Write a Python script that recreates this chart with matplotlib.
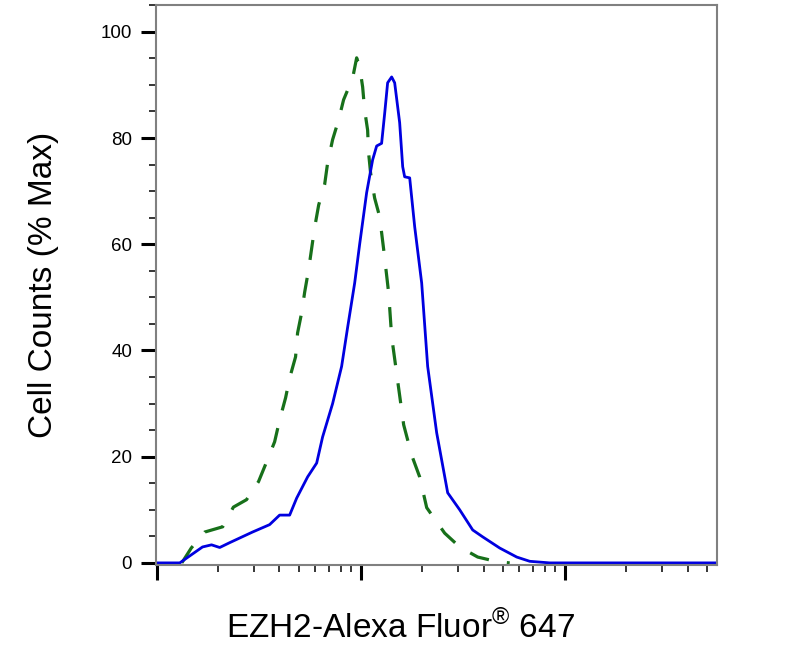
import matplotlib
matplotlib.use("Agg")
import matplotlib.pyplot as plt
from matplotlib.ticker import FixedLocator, MultipleLocator, NullFormatter

plt.rcParams['font.family'] = ['Liberation Sans', 'DejaVu Sans']
plt.rcParams['mathtext.fontset'] = 'custom'
plt.rcParams['mathtext.rm'] = 'Liberation Sans'

# stained sample (solid blue)
ezh2_x = [100, 130, 168, 186, 204, 228, 295, 358, 401, 449, 486, 550, 609, 651,
          729, 807, 864, 935, 989, 1070, 1145, 1198, 1267, 1312, 1356, 1419,
          1468, 1553, 1607, 1643, 1739, 1840, 1991, 2130, 2358, 2670, 3057,
          3540, 3963, 4801, 5818, 6737, 8444, 55600]
ezh2_y = [0, 0, 3.0, 3.4, 2.9, 3.8, 5.8, 7.2, 9.0, 9.0, 12.2, 16.2, 18.8, 23.7,
          30, 37, 44.4, 52.7, 60, 69.7, 75.9, 78.5, 79, 84.7, 90.4, 91.5,
          90.4, 82.9, 74.6, 72.7, 72.5, 63.3, 52.7, 37, 24.5, 13.2, 10,
          6.2, 4.9, 2.8, 1.1, 0.3, 0, 0]

# isotype control (dashed green)
ctrl_x = [133, 148, 172, 211, 238, 276, 316, 346, 379, 401, 429, 449, 480, 491,
          514, 532, 556, 595, 623, 666, 689, 729, 780, 825, 914, 956,
          989, 1023, 1046, 1082, 1094, 1119, 1171, 1239, 1297, 1372, 1419, 1518,
          1625, 1778, 1946, 2107, 2581, 3057, 3746, 4695, 5375]
ctrl_y = [0, 2.8, 5.8, 6.8, 10.5, 11.9, 15.3, 19, 22.8, 26.9, 31.1, 34.8, 38.8, 43.3,
          47.1, 51, 55.2, 63.1, 67.4, 71.2, 75.3, 79.7, 83.4, 87.2, 91.3, 95.1,
          93.4, 89.6, 85.3, 81.5, 77.2, 73.4, 68.7, 65.2, 59, 50.8, 42.6, 34.3,
          26, 20.3, 16.2, 10.4, 5.6, 3, 1.1, 0.2, 0]

y_ticks = [0, 20, 40, 60, 80, 100]
x_major = [100, 1000, 10000]
x_minor = [m * d for d in (100, 1000, 10000) for m in range(2, 10)]

fig = plt.figure(figsize=(7.86, 6.57), dpi=100)
ax = fig.add_axes([0.198, 0.140, 0.714, 0.852])

ax.plot(ctrl_x, ctrl_y, color='#17701a', lw=2.3, linestyle=(0, (6.3, 5.7)))
ax.plot(ezh2_x, ezh2_y, color='#0000e0', lw=2.0)

ax.set_xscale('log')
ax.set_xlim(99, 55600)
ax.set_ylim(-0.4, 105)

ax.xaxis.set_major_locator(FixedLocator(x_major))
ax.xaxis.set_minor_locator(FixedLocator(x_minor))
ax.xaxis.set_major_formatter(NullFormatter())
ax.xaxis.set_minor_formatter(NullFormatter())
ax.set_yticks(y_ticks)
ax.yaxis.set_minor_locator(MultipleLocator(5))

ax.tick_params(axis='both', which='major', direction='out', length=11, width=2.2,
               color='black', labelsize=13.5, pad=6)
ax.tick_params(axis='both', which='minor', direction='out', length=5, width=1.1,
               color='black')

for s in ax.spines.values():
    s.set_color('#808080')
    s.set_linewidth(1.5)

ax.set_ylabel('Cell Counts (% Max)', fontsize=24, labelpad=30)
fig.text(0.51, 0.045, r'EZH2-Alexa Fluor$^{\rm ®}$ 647', fontsize=24,
         ha='center', va='center')

fig.savefig('out.png', dpi=100)
